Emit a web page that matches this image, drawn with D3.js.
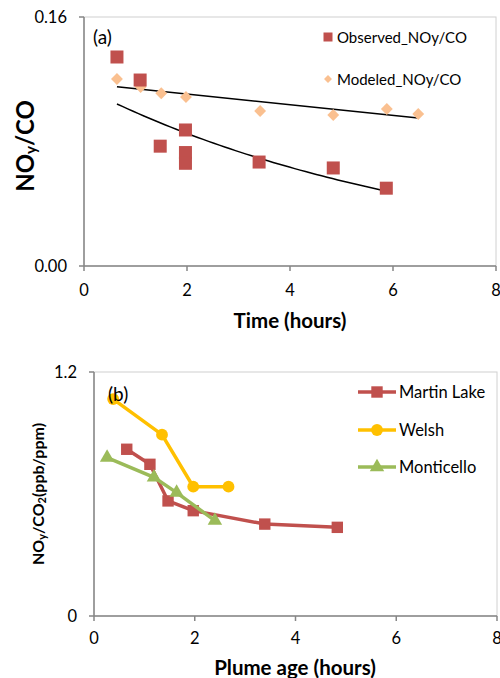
<!DOCTYPE html>
<html><head><meta charset="utf-8">
<script src="https://cdn.jsdelivr.net/npm/d3@7/dist/d3.min.js"></script>
<style>body{margin:0;background:#fff}svg{display:block}</style>
</head><body>
<script>
// ---- data: panel (a) ----
const obsTime = [0.64, 1.09, 1.48, 1.97, 1.97, 1.97, 3.40, 4.84, 5.87];
const obsRatio = [0.1343, 0.1195, 0.0770, 0.0874, 0.0729, 0.0660, 0.0668, 0.0630, 0.0500];
const modTime = [0.64, 1.10, 1.50, 1.98, 3.42, 4.84, 5.88, 6.49];
const modRatio = [0.1202, 0.1150, 0.1110, 0.1086, 0.0996, 0.0970, 0.1009, 0.0977];
const seriesA = ["Observed_NOy/CO", "Modeled_NOy/CO"];
const xTicksA = [0, 2, 4, 6, 8];
const yTicksA = [0, 0.16];
// ---- data: panel (b) ----
const seriesB = ["Martin Lake", "Welsh", "Monticello"];
const martinAge = [0.65, 1.11, 1.47, 1.97, 3.39, 4.83];
const martinRatio = [0.82, 0.746, 0.566, 0.518, 0.452, 0.436];
const welshAge = [0.38, 1.35, 1.97, 2.67];
const welshRatio = [1.067, 0.892, 0.636, 0.636];
const montiAge = [0.26, 1.19, 1.64, 2.40];
const montiRatio = [0.779, 0.682, 0.607, 0.469];
const xTicksB = [0, 2, 4, 6, 8];
const yTicksB = [0, 1.2];

const FONT = "Lato, 'Open Sans', sans-serif";
const GRAY = "#868686";
const svg = d3.select("body").append("svg").attr("width", 500).attr("height", 678)
  .style("font-family", FONT);

function frame(x, y, xt, yt, yfmt, tickLabelY) {
  const g = svg.append("g");
  const [x0, x1] = x.range(), [y0, y1] = y.range();
  g.append("rect").attr("x", x0).attr("y", y1).attr("width", x1 - x0).attr("height", y0 - y1)
    .attr("fill", "none").attr("stroke", "#d0d0d0").attr("stroke-width", 1);
  g.append("line").attr("x1", x0).attr("x2", x1).attr("y1", y0).attr("y2", y0).attr("stroke", GRAY).attr("stroke-width", 1.5);
  g.append("line").attr("x1", x0).attr("x2", x0).attr("y1", y0).attr("y2", y1).attr("stroke", GRAY).attr("stroke-width", 1.5);
  xt.forEach(t => {
    g.append("line").attr("x1", x(t)).attr("x2", x(t)).attr("y1", y0).attr("y2", y0 + 5).attr("stroke", GRAY).attr("stroke-width", 1.5);
    g.append("text").attr("x", x(t)).attr("y", y0 + tickLabelY).attr("text-anchor", "middle")
      .attr("dominant-baseline", "central").attr("font-size", 16.5).attr("fill", "#000").text(t);
  });
  yt.forEach(t => {
    g.append("line").attr("x1", x0 - 5).attr("x2", x0).attr("y1", y(t)).attr("y2", y(t)).attr("stroke", GRAY).attr("stroke-width", 1.5);
    g.append("text").attr("x", x0 - 17).attr("y", y(t)).attr("text-anchor", "end")
      .attr("dominant-baseline", "central").attr("font-size", 16.5).attr("fill", "#000").text(yfmt(t));
  });
}

// ---------- panel (a) ----------
const xA = d3.scaleLinear().domain([0, 8]).range([84, 496]);
const yA = d3.scaleLinear().domain([0, 0.16]).range([266, 17]);
frame(xA, yA, xTicksA, yTicksA, d3.format(".2f"), 24);

const obs = obsTime.map((t, i) => ({x: t, y: obsRatio[i]}));
const mod = modTime.map((t, i) => ({x: t, y: modRatio[i]}));

// linear trend of modeled
function linfit(pts) {
  const mx = d3.mean(pts, d => d.x), my = d3.mean(pts, d => d.y);
  const sxy = d3.sum(pts, d => (d.x - mx) * (d.y - my));
  const sxx = d3.sum(pts, d => (d.x - mx) ** 2);
  const b = sxy / sxx;
  return {a: my - b * mx, b};
}
const lf = linfit(mod);
const [mx0, mx1] = d3.extent(modTime);
svg.append("line").attr("x1", xA(mx0)).attr("y1", yA(lf.a + lf.b * mx0))
  .attr("x2", xA(mx1)).attr("y2", yA(lf.a + lf.b * mx1)).attr("stroke", "#000").attr("stroke-width", 1.5);
// exponential trend of observed
const ef = linfit(obs.map(d => ({x: d.x, y: Math.log(d.y)})));
const [ox0, ox1] = d3.extent(obsTime);
const expPts = d3.range(0, 51).map(i => { const t = ox0 + (ox1 - ox0) * i / 50; return [t, Math.exp(ef.a + ef.b * t)]; });
svg.append("path").attr("d", d3.line().x(d => xA(d[0])).y(d => yA(d[1]))(expPts))
  .attr("fill", "none").attr("stroke", "#000").attr("stroke-width", 1.5);

const RED = "#C0504D", PEACH = "#FAC090";
svg.append("g").selectAll("rect").data(mod).join("path")
  .attr("d", d3.symbol(d3.symbolDiamond2, 90)())
  .attr("transform", d => `translate(${xA(d.x)},${yA(d.y)})`).attr("fill", PEACH);
svg.append("g").selectAll("rect").data(obs).join("rect")
  .attr("x", d => xA(d.x) - 6.5).attr("y", d => yA(d.y) - 6.5).attr("width", 13).attr("height", 13).attr("fill", RED);

svg.append("text").attr("x", 93).attr("y", 36).attr("dominant-baseline", "central").attr("font-size", 19).text("(a)");

// legend a
const legA = [{name: seriesA[0], y: 37}, {name: seriesA[1], y: 79}];
svg.append("rect").attr("x", 323.5).attr("y", legA[0].y - 4.5).attr("width", 9).attr("height", 9).attr("fill", RED);
svg.append("path").attr("d", d3.symbol(d3.symbolDiamond2, 40)()).attr("transform", `translate(328,${legA[1].y})`).attr("fill", PEACH);
legA.forEach(l => svg.append("text").attr("x", 337).attr("y", l.y).attr("dominant-baseline", "central")
  .attr("font-size", 15).text(l.name));

// axis titles a
svg.append("text").attr("x", 290).attr("y", 320).attr("text-anchor", "middle").attr("dominant-baseline", "central")
  .attr("font-size", 20.5).attr("font-weight", "bold").text("Time (hours)");
const ta = svg.append("text").attr("transform", "translate(24,146) rotate(-90)").attr("text-anchor", "middle")
  .attr("dominant-baseline", "central").attr("font-size", 24).attr("font-weight", "bold");
ta.append("tspan").text("NO");
ta.append("tspan").attr("font-size", 15).attr("dy", 6).text("y");
ta.append("tspan").attr("dy", -6).text("/CO");

// ---------- panel (b) ----------
const xB = d3.scaleLinear().domain([0, 8]).range([94, 497]);
const yB = d3.scaleLinear().domain([0, 1.2]).range([616, 372]);
frame(xB, yB, xTicksB, yTicksB, d => d === 0 ? "0" : d3.format(".1f")(d), 22);

const COLS = ["#C0504D", "#FFC000", "#9BBB59"];
const dataB = [
  martinAge.map((t, i) => ({x: t, y: martinRatio[i]})),
  welshAge.map((t, i) => ({x: t, y: welshRatio[i]})),
  montiAge.map((t, i) => ({x: t, y: montiRatio[i]}))
];
const syms = [d3.symbolSquare, d3.symbolCircle, d3.symbolTriangle];
const symSize = [130, 110, 90];
const lineB = d3.line().x(d => xB(d.x)).y(d => yB(d.y));
dataB.forEach((pts, k) => {
  svg.append("path").attr("d", lineB(pts)).attr("fill", "none").attr("stroke", COLS[k]).attr("stroke-width", 3.5);
  svg.append("g").selectAll("path").data(pts).join("path")
    .attr("d", d3.symbol(syms[k], symSize[k])())
    .attr("transform", d => `translate(${xB(d.x)},${yB(d.y)})`).attr("fill", COLS[k]);
});
svg.append("text").attr("x", 108).attr("y", 393).attr("dominant-baseline", "central").attr("font-size", 19).text("(b)");

// legend b
const legYs = [392, 430, 467];
seriesB.forEach((name, k) => {
  svg.append("line").attr("x1", 358).attr("x2", 396).attr("y1", legYs[k]).attr("y2", legYs[k])
    .attr("stroke", COLS[k]).attr("stroke-width", 3.5);
  svg.append("path").attr("d", d3.symbol(syms[k], symSize[k])()).attr("transform", `translate(377,${legYs[k]})`).attr("fill", COLS[k]);
  svg.append("text").attr("x", 399).attr("y", legYs[k]).attr("dominant-baseline", "central").attr("font-size", 16.5).text(name);
});

svg.append("text").attr("x", 295).attr("y", 667).attr("text-anchor", "middle").attr("dominant-baseline", "central")
  .attr("font-size", 20.5).attr("font-weight", "bold").text("Plume age (hours)");
const tb = svg.append("text").attr("transform", "translate(37,494) rotate(-90)").attr("text-anchor", "middle")
  .attr("dominant-baseline", "central").attr("font-size", 16).attr("font-weight", "bold");
tb.append("tspan").text("NO");
tb.append("tspan").attr("font-size", 11).attr("dy", 4).text("y");
tb.append("tspan").attr("dy", -4).text("/CO");
tb.append("tspan").attr("font-size", 11).attr("dy", 4).text("2");
tb.append("tspan").attr("dy", -4).text("(ppb/ppm)");
</script>
</body></html>
